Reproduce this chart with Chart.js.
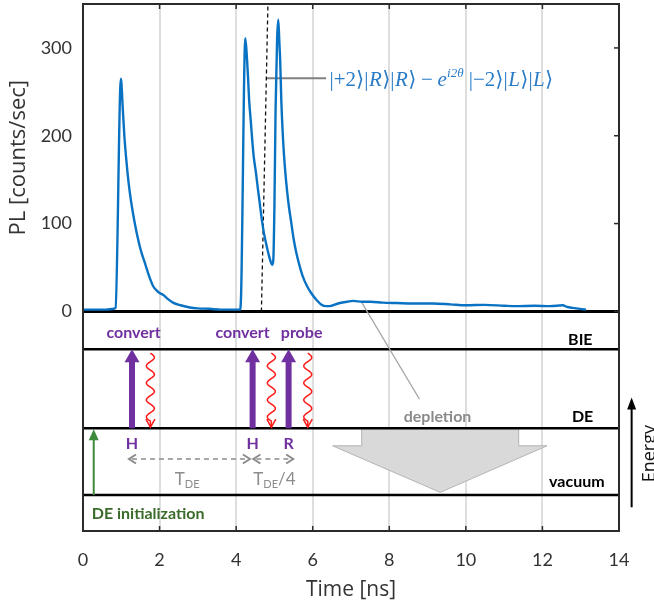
<!DOCTYPE html>
<html><head><meta charset="utf-8">
<script src="https://cdn.jsdelivr.net/npm/chart.js@4.4.0/dist/chart.umd.min.js"></script>
<style>html,body{margin:0;padding:0;background:#fff;}canvas{display:block;}</style>
</head><body>
<canvas id="c" width="654" height="608"></canvas>
<script>
// ---- PL trace (time in ns, counts/sec) ----
const timeNs = [0,0.2,0.4,0.6,0.8,0.85,0.99,1.04,1.08,1.13,1.19,1.26,1.35,1.44,1.52,1.61,1.72,1.83,1.92,2.0,2.09,2.22,2.35,2.55,2.79,3.0,3.3,3.6,3.9,4.1,4.13,4.24,4.28,4.31,4.34,4.38,4.42,4.46,4.52,4.57,4.62,4.66,4.70,4.74,4.80,4.86,4.90,4.94,4.97,5.00,5.03,5.07,5.10,5.13,5.15,5.18,5.22,5.26,5.31,5.37,5.44,5.50,5.57,5.65,5.74,5.85,5.96,6.1,6.22,6.35,6.44,6.66,6.9,7.05,7.3,7.5,7.83,8.2,8.6,9.13,9.6,10.0,10.5,11.0,11.3,11.8,12.2,12.53,12.65,12.79,13.14];
const plCounts = [2,2,2,2,3,4,265,230,200,173,147,124,101,82,68,56,41,29,24,21,19,14,10,7,4.5,3.5,3,2,2,2,20,311,290,267,240,218,195,176,157,139,122,108,96,86,74,63,57,53,58,120,230,310,332,305,286,240,200,172,146,122,101,83,67,53,40,29,21,13,8,6,6,9,11,12,11,11,10,9.5,9,9,8,7,7.5,6.5,6,6.5,6,7,5,4,2];
const xTickValues = [0,2,4,6,8,10,12,14];
const yTickValues = [0,100,200,300];

// ---- energy-level diagram ----
const levelNames  = ['', 'BIE', 'DE', 'vacuum'];
const levelValues = [0, -43, -133, -209];
const levelLabelX = [null, 12.99, 13.05, 12.9];
const levelLabelY = [null, -32, -120, -194];

const markerLineX = [4.66, 4.83];
const markerLineY = [0, 350];
const stateLeaderX = [4.79, 6.35];
const stateLeaderY = [265.5, 265.5];
const stateLabelPos = [6.44, 257];

const pulseTimes    = [1.28, 4.43, 5.37];
const pulseLabels   = ['H', 'H', 'R'];
const pulseLabelY   = -151;
const emissionTimes = [1.76, 4.92, 5.87];
const actionLabels  = ['convert', 'convert', 'probe'];
const actionLabelX  = [1.32, 4.17, 5.71];
const actionLabelY  = -24;

const intervalStart = [1.20, 4.45];
const intervalEnd   = [4.36, 5.49];
const intervalY     = -168;
const intervalSuffix = ['', '/4'];
const intervalLabelX = [2.72, 5.0];
const intervalLabelY = -191;

const initArrowX = 0.28;
const initLabelPos = [1.7, -230];

const depletionX = [7.28, 11.38, 11.38, 12.12, 9.33, 6.52, 7.28];
const depletionY = [-133, -133, -153, -153, -206, -153, -153];
const depletionLeaderX = [7.27, 8.79];
const depletionLeaderY = [11, -100];
const depletionLabelPos = [9.26, -120];

const energyArrowX = 14.33;
const energyArrowY = [-223, -98];
const energyLabelPos = [14.8, -162];

const pts = (xs, ys) => xs.map((x, i) => ({x, y: ys[i]}));
const BLUE = '#0a72c2', PURPLE = '#7030a0', GREY = '#8c8c8c';

const datasets = [
  {data: pts(timeNs, plCounts), borderColor: BLUE, borderWidth: 2.4, cubicInterpolationMode: 'monotone'},
  {data: pts(markerLineX, markerLineY), borderColor: '#111', borderWidth: 1.3, borderDash: [4, 3]},
  {data: pts(stateLeaderX, stateLeaderY), borderColor: '#808080', borderWidth: 2},
  {data: pts(depletionLeaderX, depletionLeaderY), borderColor: '#a6a6a6', borderWidth: 1.4},
];
levelValues.forEach(v => datasets.push({data: pts([0, 14], [v, v]), borderColor: '#000', borderWidth: v === 0 ? 3 : 2.6}));
datasets.forEach(d => { d.pointRadius = 0; d.fill = false; if (!d.cubicInterpolationMode) d.tension = 0; });

const diagram = {
  id: 'diagram',
  beforeDatasetsDraw(chart) {
    const {ctx, scales: {x, y}} = chart;
    ctx.save();
    ctx.beginPath();
    depletionX.forEach((v, i) => { const px = x.getPixelForValue(v), py = y.getPixelForValue(depletionY[i]); i ? ctx.lineTo(px, py) : ctx.moveTo(px, py); });
    ctx.closePath();
    ctx.fillStyle = '#d9d9d9'; ctx.fill();
    ctx.strokeStyle = '#b3b3b3'; ctx.lineWidth = 1; ctx.stroke();
    ctx.restore();
  },
  afterDatasetsDraw(chart) {
    const {ctx, chartArea: a, scales: {x, y}} = chart;
    const X = v => x.getPixelForValue(v), Y = v => y.getPixelForValue(v);
    ctx.save();
    // frame
    ctx.strokeStyle = '#2b2b2b'; ctx.lineWidth = 2;
    ctx.strokeRect(a.left, a.top, a.right - a.left, a.bottom - a.top);
    // ticks
    ctx.lineWidth = 1.5;
    xTickValues.slice(1, -1).forEach(v => {
      const px = X(v);
      ctx.beginPath(); ctx.moveTo(px, a.top); ctx.lineTo(px, a.top + 5); ctx.moveTo(px, a.bottom); ctx.lineTo(px, a.bottom - 5); ctx.stroke();
    });
    yTickValues.forEach(v => { const py = Y(v); ctx.beginPath(); ctx.moveTo(a.right, py); ctx.lineTo(a.right - 5, py); ctx.stroke(); });

    const yBIE = Y(levelValues[1]), yDE = Y(levelValues[2]), yVac = Y(levelValues[3]);
    // purple pump arrows
    ctx.fillStyle = PURPLE;
    pulseTimes.forEach(t => {
      const px = X(t);
      ctx.fillRect(px - 3, yBIE + 12, 6, yDE - yBIE - 12);
      ctx.beginPath(); ctx.moveTo(px - 7.5, yBIE + 13); ctx.lineTo(px + 7.5, yBIE + 13); ctx.lineTo(px, yBIE); ctx.closePath(); ctx.fill();
    });
    // red wavy emission arrows
    ctx.strokeStyle = '#ff1a1a'; ctx.lineWidth = 1.5;
    emissionTimes.forEach(t => {
      const px = X(t), y0 = yBIE + 4, y1 = yDE - 1, yEnd = y1 - 6;
      ctx.beginPath();
      for (let yy = y0; yy <= yEnd; yy += 0.5) {
        const xx = px + 4 * Math.sin(2 * Math.PI * (yy - y0) / 17);
        yy === y0 ? ctx.moveTo(xx, yy) : ctx.lineTo(xx, yy);
      }
      ctx.lineTo(px, y1); ctx.stroke();
      ctx.beginPath(); ctx.moveTo(px - 4.5, y1 - 8); ctx.lineTo(px, y1); ctx.lineTo(px + 4.5, y1 - 8); ctx.stroke();
    });
    // green init arrow
    const gx = X(initArrowX);
    ctx.strokeStyle = '#3d8a3d'; ctx.fillStyle = '#3d8a3d'; ctx.lineWidth = 2;
    ctx.beginPath(); ctx.moveTo(gx, yVac); ctx.lineTo(gx, yDE + 10); ctx.stroke();
    ctx.beginPath(); ctx.moveTo(gx - 5, yDE + 12); ctx.lineTo(gx + 5, yDE + 12); ctx.lineTo(gx, yDE + 1); ctx.closePath(); ctx.fill();
    // grey dashed interval arrows
    ctx.strokeStyle = GREY; ctx.lineWidth = 1.6;
    intervalStart.forEach((s, i) => {
      const x1 = X(s), x2 = X(intervalEnd[i]), py = Y(intervalY);
      ctx.setLineDash([5, 4]);
      ctx.beginPath(); ctx.moveTo(x1 + 3, py); ctx.lineTo(x2 - 3, py); ctx.stroke();
      ctx.setLineDash([]);
      ctx.lineWidth = 2;
      ctx.beginPath(); ctx.moveTo(x1 + 7, py - 4.5); ctx.lineTo(x1, py); ctx.lineTo(x1 + 7, py + 4.5);
      ctx.moveTo(x2 - 7, py - 4.5); ctx.lineTo(x2, py); ctx.lineTo(x2 - 7, py + 4.5); ctx.stroke();
      ctx.lineWidth = 1.6;
    });
    // energy arrow (outside plot)
    const ex = X(energyArrowX);
    ctx.strokeStyle = '#000'; ctx.fillStyle = '#000'; ctx.lineWidth = 2;
    ctx.beginPath(); ctx.moveTo(ex, Y(energyArrowY[0])); ctx.lineTo(ex, Y(energyArrowY[1]) + 10); ctx.stroke();
    ctx.beginPath(); ctx.moveTo(ex - 4.5, Y(energyArrowY[1]) + 12); ctx.lineTo(ex + 4.5, Y(energyArrowY[1]) + 12); ctx.lineTo(ex, Y(energyArrowY[1])); ctx.closePath(); ctx.fill();

    // ---- texts ----
    ctx.textAlign = 'center'; ctx.textBaseline = 'middle';
    ctx.font = 'bold 16px Lato'; ctx.fillStyle = PURPLE;
    actionLabels.forEach((s, i) => ctx.fillText(s, X(actionLabelX[i]), Y(actionLabelY)));
    pulseLabels.forEach((s, i) => ctx.fillText(s, X(pulseTimes[i]), Y(pulseLabelY)));
    ctx.fillStyle = '#000'; ctx.font = 'bold 16px Lato';
    levelNames.forEach((s, i) => { if (s) ctx.fillText(s, X(levelLabelX[i]), Y(levelLabelY[i])); });
    ctx.fillStyle = '#8a8a8a'; ctx.font = 'bold 16px Lato';
    ctx.fillText('depletion', X(depletionLabelPos[0]), Y(depletionLabelPos[1]));
    ctx.fillStyle = '#3b6b2b'; ctx.font = 'bold 16px Lato';
    ctx.fillText('DE initialization', X(initLabelPos[0]), Y(initLabelPos[1]));
    // T_DE labels
    ctx.fillStyle = GREY;
    intervalLabelX.forEach((cx, i) => {
      const big = '17px Lato', small = '11px Lato';
      ctx.font = big; const wT = ctx.measureText('T').width, wS = ctx.measureText(intervalSuffix[i]).width;
      ctx.font = small; const wD = ctx.measureText('DE').width;
      let px = X(cx) - (wT + wD + wS) / 2; const py = Y(intervalLabelY);
      ctx.textAlign = 'left';
      ctx.font = big; ctx.fillText('T', px, py); px += wT;
      ctx.font = small; ctx.fillText('DE', px, py + 5); px += wD;
      ctx.font = big; ctx.fillText(intervalSuffix[i], px, py);
      ctx.textAlign = 'center';
    });
    // Energy label (rotated)
    ctx.save();
    ctx.translate(X(energyLabelPos[0]), Y(energyLabelPos[1])); ctx.rotate(-Math.PI / 2);
    ctx.fillStyle = '#111'; ctx.font = '18px "Open Sans"'; ctx.fillText('Energy', 0, 0);
    ctx.restore();
    // state formula
    const segs = [['|+2⟩|', 'n'], ['R', 'i'], ['⟩|', 'n'], ['R', 'i'], ['⟩', 'n'], ['\u2009\u2212\u2009', 'n'], ['e', 'i'], ['i2θ', 's'], ['\u2009|\u22122⟩|', 'n'], ['L', 'i'], ['⟩|', 'n'], ['L', 'i'], ['⟩', 'n']];
    ctx.fillStyle = '#2a7cc7'; ctx.textAlign = 'left'; ctx.textBaseline = 'alphabetic';
    let fx = X(stateLabelPos[0]); const fy = Y(stateLabelPos[1]);
    segs.forEach(([s, k]) => {
      ctx.font = k === 'n' ? '21px "Liberation Serif", "DejaVu Serif"' : k === 'i' ? 'italic 21px "Liberation Serif", "DejaVu Serif"' : 'italic 13px "Liberation Serif", "DejaVu Serif"';
      ctx.fillText(s, fx, k === 's' ? fy - 9 : fy);
      fx += ctx.measureText(s).width + (k === 's' ? 1 : 0.4);
    });
    // axis titles
    ctx.fillStyle = '#333'; ctx.textAlign = 'center'; ctx.textBaseline = 'middle';
    ctx.font = '21px "Open Sans"';
    ctx.fillText('Time [ns]', (a.left + a.right) / 2, 590);
    ctx.save();
    ctx.translate(19, (Y(0) + Y(350)) / 2); ctx.rotate(-Math.PI / 2);
    ctx.font = '22px "Open Sans"'; ctx.fillText('PL [counts/sec]', 0, 0);
    ctx.restore();
    ctx.restore();
  }
};

new Chart(document.getElementById('c'), {
  type: 'line',
  data: {datasets},
  options: {
    responsive: false, animation: false, events: [],
    layout: {padding: {left: 0, right: 35, top: 4, bottom: 0}},
    plugins: {legend: {display: false}, tooltip: {enabled: false}},
    scales: {
      x: {
        type: 'linear', min: 0, max: 14,
        afterBuildTicks: s => { s.ticks = xTickValues.map(v => ({value: v})); },
        afterFit: s => { s.height = 77; s.paddingLeft = 0; s.paddingRight = 0; },
        grid: {color: c => (c.tick && (c.tick.value === 0 || c.tick.value === 14)) ? 'rgba(0,0,0,0)' : '#dedede', lineWidth: 2, drawTicks: false},
        border: {display: false},
        ticks: {color: '#333', font: {family: 'Lato', size: 18}, padding: 18, maxRotation: 0}
      },
      y: {
        type: 'linear', min: -250, max: 350,
        afterBuildTicks: s => { s.ticks = yTickValues.map(v => ({value: v})); },
        afterFit: s => { s.width = 83; s.paddingTop = 0; s.paddingBottom = 0; },
        grid: {display: false, drawTicks: false},
        border: {display: false},
        ticks: {color: '#333', font: {family: 'Lato', size: 18}, padding: 11}
      }
    }
  },
  plugins: [diagram]
});
</script>
</body></html>
